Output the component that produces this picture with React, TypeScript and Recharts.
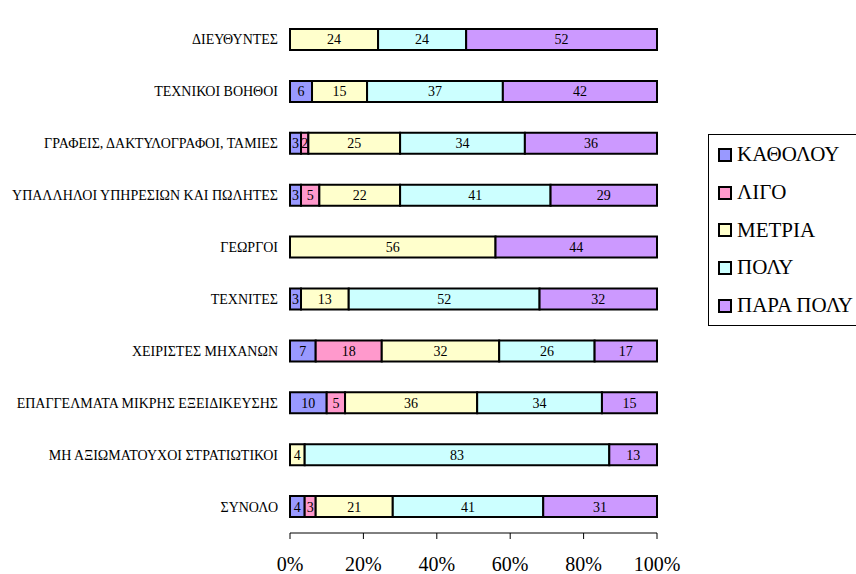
import { Bar, BarChart, LabelList, Legend, XAxis, YAxis } from "recharts";

const categories = [
  "ΔΙΕΥΘΥΝΤΕΣ",
  "ΤΕΧΝΙΚΟΙ ΒΟΗΘΟΙ",
  "ΓΡΑΦΕΙΣ, ΔΑΚΤΥΛΟΓΡΑΦΟΙ, ΤΑΜΙΕΣ",
  "ΥΠΑΛΛΗΛΟΙ ΥΠΗΡΕΣΙΩΝ ΚΑΙ ΠΩΛΗΤΕΣ",
  "ΓΕΩΡΓΟΙ",
  "ΤΕΧΝΙΤΕΣ",
  "ΧΕΙΡΙΣΤΕΣ ΜΗΧΑΝΩΝ",
  "ΕΠΑΓΓΕΛΜΑΤΑ ΜΙΚΡΗΣ ΕΞΕΙΔΙΚΕΥΣΗΣ",
  "ΜΗ ΑΞΙΩΜΑΤΟΥΧΟΙ ΣΤΡΑΤΙΩΤΙΚΟΙ",
  "ΣΥΝΟΛΟ",
];

const katholou = [0, 6, 3, 3, 0, 3, 7, 10, 0, 4];
const ligo = [0, 0, 2, 5, 0, 0, 18, 5, 0, 3];
const metria = [24, 15, 25, 22, 56, 13, 32, 36, 4, 21];
const poly = [24, 37, 34, 41, 0, 52, 26, 34, 83, 41];
const paraPoly = [52, 42, 36, 29, 44, 32, 17, 15, 13, 31];

const seriesNames = ["ΚΑΘΟΛΟΥ", "ΛΙΓΟ", "ΜΕΤΡΙΑ", "ΠΟΛΥ", "ΠΑΡΑ ΠΟΛΥ"];
const seriesColors = ["#9999FF", "#FF99CC", "#FFFFCC", "#CCFFFF", "#CC99FF"];
const xTicks = [0, 20, 40, 60, 80, 100];
const bandTicks = [0, 1, 2, 3, 4, 5, 6, 7, 8, 9, 10];

const seriesValues = [katholou, ligo, metria, poly, paraPoly];

const FONT = "'Liberation Serif', 'Times New Roman', 'DejaVu Serif', serif";

const data = categories.map((name, i) => {
  const row: Record<string, string | number> = { name };
  seriesNames.forEach((s, j) => {
    row[s] = seriesValues[j][i];
  });
  return row;
});

// category label, drawn on one line (no wrapping)
const CategoryTick = (props: any) => {
  const { x, y, payload } = props;
  return (
    <text
      x={x}
      y={y}
      textAnchor="end"
      dominantBaseline="central"
      fontSize={14}
      fontFamily={FONT}
      fill="#000"
    >
      {payload.value}
    </text>
  );
};

const LegendBox = (props: any) => {
  const payload = [...(props.payload || [])].sort(
    (a: any, b: any) => seriesNames.indexOf(a.value) - seriesNames.indexOf(b.value)
  );
  return (
    <div
      style={{
        border: "1px solid #000",
        background: "#fff",
        padding: "1px 0 0 9px",
        width: 170,
        height: 192,
        boxSizing: "border-box",
        fontFamily: FONT,
      }}
    >
      {payload.map((p: any) => (
        <div
          key={p.value}
          style={{ height: 37.7, display: "flex", alignItems: "center", whiteSpace: "nowrap" }}
        >
          <span
            style={{
              display: "inline-block",
              width: 10,
              height: 10,
              border: "2px solid #000",
              background: seriesColors[seriesNames.indexOf(p.value)] || p.color,
              marginRight: 5,
            }}
          />
          <span style={{ fontSize: 21, color: "#000", fontFamily: FONT }}>{p.value}</span>
        </div>
      ))}
    </div>
  );
};

const App = () => {
  return (
    <div
      style={{
        position: "absolute",
        left: 0,
        top: 0,
        width: 856,
        height: 574,
        overflow: "hidden",
        background: "#fff",
        fontFamily: FONT,
      }}
    >
      <BarChart
        width={856}
        height={574}
        data={data}
        layout="vertical"
        margin={{ top: 14, right: 199, bottom: 0, left: 0 }}
        style={{ fontFamily: FONT }}
      >
        <XAxis
          type="number"
          domain={[0, 100]}
          ticks={xTicks}
          tickFormatter={(v) => `${v}%`}
          height={41}
          tickSize={6}
          tickMargin={18}
          axisLine={{ stroke: "#000", strokeWidth: 1 }}
          tickLine={{ stroke: "#000" }}
          tick={{ fontSize: 20, fill: "#000", fontFamily: FONT }}
        />
        <XAxis
          xAxisId="top"
          orientation="top"
          type="number"
          domain={[0, 100]}
          height={0}
          tick={false}
          tickLine={false}
          axisLine={{ stroke: "#808080", strokeWidth: 2 }}
        />
        <YAxis
          yAxisId="band"
          type="number"
          domain={[0, 10]}
          ticks={bandTicks}
          width={0}
          tickSize={5}
          tickFormatter={() => ""}
          axisLine={{ stroke: "#000", strokeWidth: 1.5 }}
          tickLine={{ stroke: "#000", strokeWidth: 1.5 }}
        />
        <YAxis
          type="category"
          dataKey="name"
          width={290}
          tickSize={4}
          tickMargin={8}
          axisLine={false}
          tickLine={false}
          interval={0}
          tick={<CategoryTick />}
        />
        <YAxis
          yAxisId="right"
          orientation="right"
          type="number"
          domain={[0, 10]}
          width={0}
          tick={false}
          tickLine={false}
          axisLine={{ stroke: "#808080", strokeWidth: 2 }}
        />
        <Legend
          layout="vertical"
          align="center"
          verticalAlign="middle"
          wrapperStyle={{ left: 708, top: 134, width: 170 }}
          content={<LegendBox />}
        />
        {seriesNames.map((s, j) => (
          <Bar
            key={s}
            dataKey={s}
            name={s}
            stackId="a"
            fill={seriesColors[j]}
            stroke="#000"
            strokeWidth={2}
            barSize={21}
            isAnimationActive={false}
          >
            <LabelList
              dataKey={s}
              position="center"
              fill="#000"
              fontSize={14}
              fontFamily={FONT}
              formatter={(v: any) => (v ? v : "")}
            />
          </Bar>
        ))}
      </BarChart>
    </div>
  );
};

export default App;
